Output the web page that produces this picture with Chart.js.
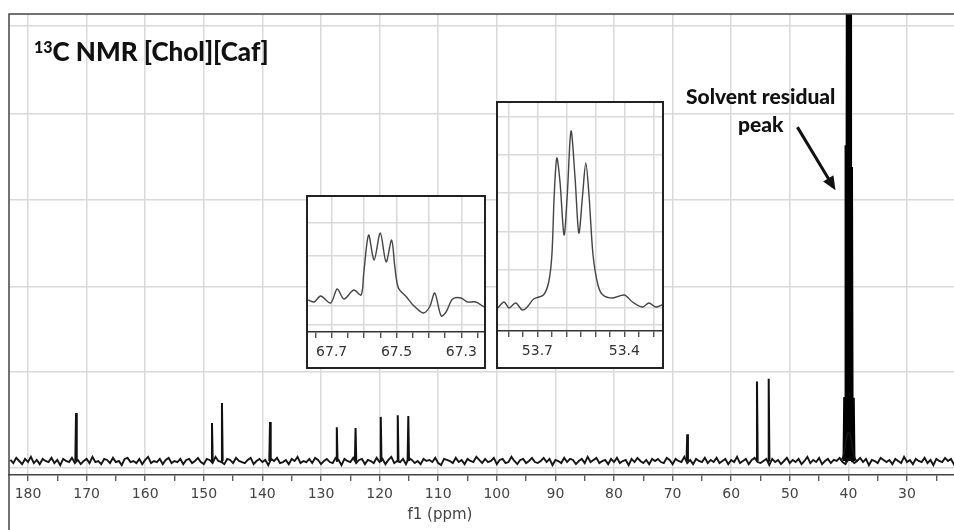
<!DOCTYPE html>
<html>
<head>
<meta charset="utf-8">
<script src="https://cdn.jsdelivr.net/npm/chart.js@4.4.0/dist/chart.umd.min.js"></script>
<style>
  body { margin: 0; background: #fff; }
  #wrap { position: relative; width: 954px; height: 530px; overflow: hidden; }
  #wrap canvas { display: block; }
  .inset { position: absolute; border: 2px solid #222; background: #fff; box-sizing: border-box; }
  .label { position: absolute; font-family: Lato, "Open Sans", sans-serif; font-weight: 900; color: #111; white-space: nowrap; }
</style>
</head>
<body>
<div id="wrap">
  <canvas id="nmrChart" width="954" height="530"></canvas>
  <div class="label" style="left:34px; top:35px; font-size:26px;"><span style="font-size:16px; vertical-align:8px;">13</span>C NMR [Chol][Caf]</div>
  <div class="label" style="left:686px; top:82px; font-size:21px; line-height:28px; text-align:center;">Solvent residual<br>peak</div>
  <div class="inset" style="left:306px; top:195px; width:180px; height:174px;"><canvas id="inset1" width="176" height="170"></canvas></div>
  <div class="inset" style="left:496px; top:101px; width:168px; height:268px;"><canvas id="inset2" width="164" height="264"></canvas></div>
</div>
<script>
// main spectrum, chemical shift in ppm (axis runs right to left)
const xMin = 21.98, xMax = 183.24;
const xTicks = [180, 175, 170, 165, 160, 155, 150, 145, 140, 135, 130, 125, 120, 115, 110, 105,
                100, 95, 90, 85, 80, 75, 70, 65, 60, 55, 50, 45, 40, 35, 30, 25];
const xLabels = [180, 170, 160, 150, 140, 130, 120, 110, 100, 90, 80, 70, 60, 50, 40, 30];
const xTitleAt = 109.7;

// intensity (arbitrary units), gridlines as drawn by the software
const yMin = -0.162, yMax = 5.168;
const yGrid = [-0.08, 1.03, 2.02, 3.02, 4.02, 5.03];

// sharp carbon signals
const peakPpm    = [171.8, 148.6, 146.9, 138.7, 127.3, 124.1, 119.8, 116.9, 115.1, 67.5, 55.6, 53.6];
const peakHeight = [0.555, 0.44, 0.67, 0.45, 0.39, 0.38, 0.51, 0.53, 0.52, 0.31, 0.92, 0.95];

// DMSO-d6 septet (solvent residual peak)
const solventPpm    = [40.68, 40.45, 40.22, 39.95, 39.7, 39.42, 39.12];
const solventHeight = [0.74, 3.65, 6.5, 7.0, 6.5, 3.4, 0.73];
const humpPpm  = [41.3, 40.9, 40.6, 40.3, 40.0, 39.7, 39.4, 39.1, 38.8, 38.5];
const humpVals = [0.0, 0.05, 0.16, 0.28, 0.33, 0.3, 0.2, 0.08, 0.02, 0.0];

// baseline noise, read every 0.5 ppm from 183 ppm (hundredth-ish units)
const noiseStart = 183, noiseStep = 0.5, noiseScale = 0.012;
const noise = [
  1,-2,3,0,-3,2,-1,4,-2,1,-3,2,0,-1,3,-2,1,-4,2,0,
  -1,3,-2,1,-3,0,2,-2,4,-1,0,-3,2,1,-2,3,-1,0,-4,2,
  3,-1,0,-2,2,-3,1,4,-2,0,-1,2,-3,1,3,-2,0,-1,2,-3,
  1,2,-2,0,3,-1,-3,2,1,-2,4,0,-1,-3,2,1,-2,3,0,-1,
  -2,1,3,-3,0,2,-1,1,-4,2,0,3,-2,-1,1,-3,2,0,4,-2,
  0,-1,2,-2,3,1,-3,0,2,-1,-2,3,1,-4,2,0,-1,3,-2,1,
  2,-3,1,0,-2,3,-1,2,-3,1,4,-2,0,-1,2,-3,3,1,-2,0,
  -3,2,0,1,-1,3,-2,-4,2,1,0,-2,3,-1,1,-3,2,0,-1,4,
  1,-2,2,-1,0,3,-3,1,2,-2,-1,4,0,-3,1,2,-2,0,3,-1,
  -2,0,3,-1,2,-4,1,0,-2,3,-1,2,1,-3,0,2,-2,4,-1,1,
  3,-2,0,1,-3,2,-1,3,-2,0,1,-4,2,-1,3,0,-2,1,-3,2,
  0,2,-1,-2,3,1,-3,2,0,-1,4,-2,1,-3,2,0,-1,3,-2,1,
  -1,3,-2,0,2,-3,1,-1,4,-2,0,2,-3,1,3,-1,-2,0,2,-4,
  2,-1,1,-3,0,3,-2,1,-1,2,-3,0,4,-2,1,-1,3,-3,0,2,
  -2,1,0,3,-1,-3,2,1,-2,0,3,-1,2,-4,1,0,-2,3,1,-1,
  1,-3,2,0,-2,4,-1,1,-3,2,0,-1,3,-2,1,-4,2,0,-1,3,
  0,2,-3,1,3,-1
];

// annotation arrow (ppm, intensity)
const arrowFrom = [48.7, 3.86];
const arrowTo   = [42.2, 3.13];

// inset 1: 67.7 - 67.3 ppm
const inset1Ppm = [67.772, 67.754, 67.734, 67.703, 67.683, 67.662, 67.632, 67.609, 67.601, 67.586,
                   67.569, 67.55, 67.532, 67.515, 67.505, 67.494, 67.469, 67.449, 67.418, 67.398,
                   67.382, 67.362, 67.347, 67.327, 67.301, 67.281, 67.255, 67.23];
const inset1Int = [32, 30, 36, 29, 43, 33, 42, 37, 59, 97,
                   72, 99, 70, 92, 65, 44, 35, 27, 19, 25,
                   39, 16, 20, 33, 34, 30, 30, 25];
const inset1Ticks = [67.75, 67.7, 67.65, 67.6, 67.55, 67.5, 67.45, 67.4, 67.35, 67.3, 67.25];
const inset1GridX = [67.7, 67.6, 67.5, 67.4, 67.3];
const inset1Labels = [67.7, 67.5, 67.3];
const inset1GridY = [109, 76, 26, 7];

// inset 2: 53.8 - 53.3 ppm
const inset2Ppm = [53.837, 53.815, 53.798, 53.775, 53.752, 53.735, 53.713, 53.679, 53.661, 53.65,
                   53.642, 53.633, 53.622, 53.608, 53.597, 53.584, 53.57, 53.557, 53.544, 53.533,
                   53.522, 53.508, 53.491, 53.474, 53.44, 53.4, 53.372, 53.338, 53.315, 53.292, 53.27];
const inset2Int = [23, 29, 23, 28, 21, 24, 32, 36, 49, 76,
                   136, 173, 149, 96, 136, 200, 153, 98, 136, 168,
                   136, 76, 46, 36, 33, 36, 29, 24, 28, 24, 26];
const inset2Ticks = [53.8, 53.75, 53.7, 53.65, 53.6, 53.55, 53.5, 53.45, 53.4, 53.35, 53.3];
const inset2GridX = [53.8, 53.7, 53.6, 53.5, 53.4, 53.3];
const inset2Labels = [53.7, 53.4];
const inset2GridY = [214, 176, 138, 99, 61, 23, 6];

const has = (list, v) => list.some(l => Math.abs(l - v) < 1e-6);
const GRID = '#dadada';

function spikes(ppm, height) {
  const pts = [];
  ppm.forEach((p, i) => {
    pts.push({x: p + 0.12, y: 0}, {x: p, y: height[i]}, {x: p - 0.12, y: 0}, {x: p - 0.13, y: null});
  });
  return pts;
}

const baselinePts = noise.map((n, i) => ({x: noiseStart - i * noiseStep, y: n * noiseScale}));
const humpPts = humpPpm.map((p, i) => ({x: p, y: humpVals[i]}));

const framePlugin = {
  id: 'frame',
  afterDraw(chart) {
    const {ctx, chartArea: a, scales: {x, y}} = chart;
    ctx.save();
    ctx.strokeStyle = '#444';
    ctx.lineWidth = 1.5;
    ctx.beginPath();
    ctx.moveTo(a.left, chart.height);
    ctx.lineTo(a.left, a.top);
    ctx.lineTo(a.right, a.top);
    ctx.stroke();

    ctx.fillStyle = '#444';
    ctx.font = '15px "DejaVu Sans"';
    ctx.textAlign = 'center';
    ctx.textBaseline = 'middle';
    ctx.fillText('f1 (ppm)', x.getPixelForValue(xTitleAt), chart.height - 15);

    // arrow to the solvent peak
    const x0 = x.getPixelForValue(arrowFrom[0]), y0 = y.getPixelForValue(arrowFrom[1]);
    const x1 = x.getPixelForValue(arrowTo[0]), y1 = y.getPixelForValue(arrowTo[1]);
    const ang = Math.atan2(y1 - y0, x1 - x0);
    ctx.strokeStyle = '#111';
    ctx.fillStyle = '#111';
    ctx.lineWidth = 3;
    ctx.beginPath();
    ctx.moveTo(x0, y0);
    ctx.lineTo(x1 - 8 * Math.cos(ang), y1 - 8 * Math.sin(ang));
    ctx.stroke();
    ctx.beginPath();
    ctx.moveTo(x1, y1);
    ctx.lineTo(x1 - 14 * Math.cos(ang) + 6 * Math.sin(ang), y1 - 14 * Math.sin(ang) - 6 * Math.cos(ang));
    ctx.lineTo(x1 - 14 * Math.cos(ang) - 6 * Math.sin(ang), y1 - 14 * Math.sin(ang) + 6 * Math.cos(ang));
    ctx.closePath();
    ctx.fill();
    ctx.restore();
  }
};

new Chart(document.getElementById('nmrChart'), {
  type: 'scatter',
  data: {
    datasets: [
      { data: baselinePts, showLine: true, borderColor: '#151515', borderWidth: 1.9, pointRadius: 0 },
      { data: humpPts, showLine: true, borderColor: '#151515', borderWidth: 1.6, pointRadius: 0, tension: 0.3 },
      { data: spikes(peakPpm, peakHeight), showLine: true, borderColor: '#111', borderWidth: 2, pointRadius: 0, spanGaps: false },
      { data: spikes(solventPpm, solventHeight), showLine: true, borderColor: '#000', borderWidth: 2.4, pointRadius: 0, spanGaps: false }
    ]
  },
  options: {
    responsive: false,
    animation: false,
    layout: { padding: { left: 9, top: 14, right: 0, bottom: 0 } },
    plugins: { legend: { display: false }, tooltip: { enabled: false } },
    scales: {
      x: {
        type: 'linear', reverse: true, min: xMin, max: xMax,
        afterBuildTicks: s => { s.ticks = xTicks.map(v => ({value: v})); },
        afterFit: s => { s.height = 55; },
        ticks: {
          autoSkip: false, maxRotation: 0, padding: 5, color: '#444',
          font: { family: 'DejaVu Sans', size: 14 },
          callback: v => has(xLabels, v) ? String(v) : ''
        },
        grid: {
          color: c => (c.tick && has(xLabels, c.tick.value)) ? GRID : 'rgba(0,0,0,0)',
          lineWidth: 1.5, tickColor: '#444', tickLength: 6, tickWidth: 1.2
        },
        border: { color: '#444', width: 1.5 }
      },
      y: {
        min: yMin, max: yMax,
        afterBuildTicks: s => { s.ticks = yGrid.map(v => ({value: v})); },
        afterFit: s => { s.width = 0; },
        ticks: { display: false },
        grid: { color: GRID, lineWidth: 1.5, drawTicks: false },
        border: { display: false }
      }
    }
  },
  plugins: [framePlugin]
});

function makeInset(id, ppm, vals, cfg) {
  return new Chart(document.getElementById(id), {
    type: 'scatter',
    data: {
      datasets: [{
        data: ppm.map((p, i) => ({x: p, y: vals[i]})),
        showLine: true, borderColor: '#444', borderWidth: 1.4, pointRadius: 0, tension: 0.3
      }]
    },
    options: {
      responsive: false,
      animation: false,
      layout: { padding: 0 },
      plugins: { legend: { display: false }, tooltip: { enabled: false } },
      scales: {
        x: {
          type: 'linear', reverse: true, min: cfg.min, max: cfg.max,
          afterBuildTicks: s => { s.ticks = cfg.ticks.map(v => ({value: v})); },
          afterFit: s => { s.height = cfg.axisH; },
          ticks: {
            autoSkip: false, maxRotation: 0, padding: 6, color: '#333',
            font: { family: 'DejaVu Sans', size: 14 },
            callback: v => has(cfg.labels, v) ? v.toFixed(1) : ''
          },
          grid: {
            color: c => (c.tick && has(cfg.gridX, c.tick.value)) ? GRID : 'rgba(0,0,0,0)',
            lineWidth: 1.5, tickColor: '#333', tickLength: 6, tickWidth: 1.2
          },
          border: { color: '#333', width: 1.5 }
        },
        y: {
          min: 0, max: cfg.yMax,
          afterBuildTicks: s => { s.ticks = cfg.gridY.map(v => ({value: v})); },
          afterFit: s => { s.width = 0; },
          ticks: { display: false },
          grid: { color: GRID, lineWidth: 1.5, drawTicks: false },
          border: { display: false }
        }
      }
    }
  });
}

makeInset('inset1', inset1Ppm, inset1Int,
  { min: 67.23, max: 67.773, ticks: inset1Ticks, gridX: inset1GridX, labels: inset1Labels, gridY: inset1GridY, yMax: 135, axisH: 35 });
makeInset('inset2', inset2Ppm, inset2Int,
  { min: 53.27, max: 53.836, ticks: inset2Ticks, gridX: inset2GridX, labels: inset2Labels, gridY: inset2GridY, yMax: 228, axisH: 36 });
</script>
</body>
</html>
